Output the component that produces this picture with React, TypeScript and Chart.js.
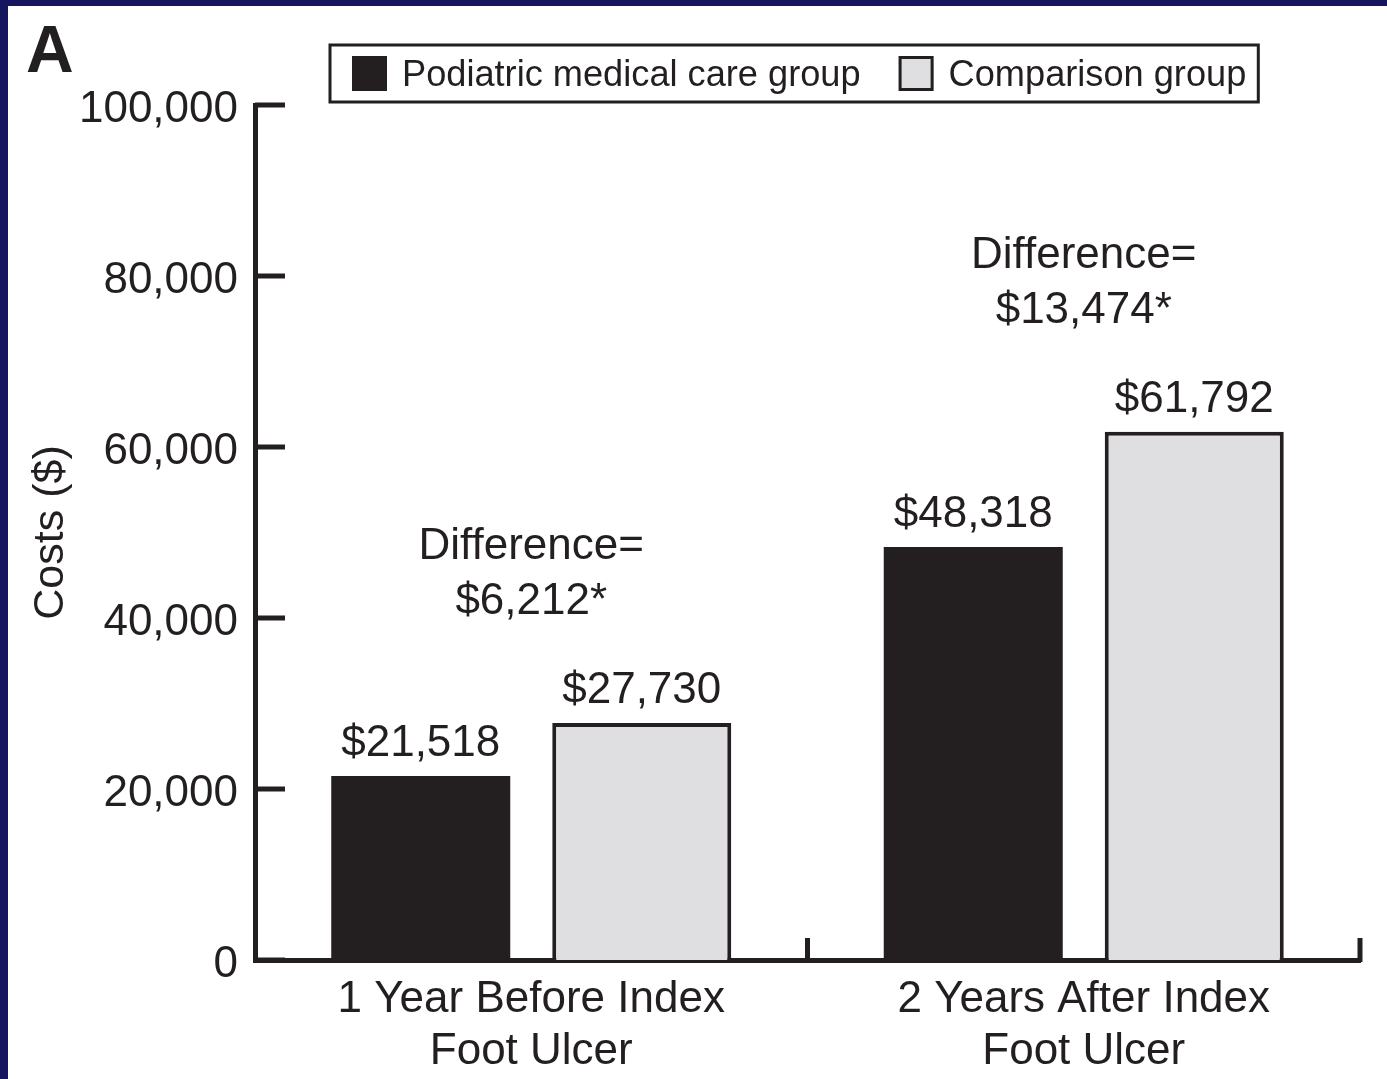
import React, { useEffect, useRef } from "react";
import { Chart, registerables } from "chart.js";

Chart.register(...registerables);

const categories: string[][] = [
  ["1 Year Before Index", "Foot Ulcer"],
  ["2 Years After Index", "Foot Ulcer"],
];
const seriesNames = ["Podiatric medical care group", "Comparison group"];
const podiatricCosts = [21518, 48318];
const comparisonCosts = [27730, 61792];
const yTicks = [0, 20000, 40000, 60000, 80000, 100000];
const yTitle = "Costs ($)";
const panelLetter = "A";

const INK = "#231f20";
const GRAY = "#dfdfe1";
const FONT = "'Liberation Sans', Arial, Helvetica, sans-serif";

const fmt = (v: number) => v.toLocaleString("en-US");

const overlayPlugin = {
  id: "overlay",
  afterDraw(chart: any) {
    const { ctx, chartArea } = chart;
    const xs = chart.scales.x;
    const ys = chart.scales.y;
    ctx.save();
    ctx.strokeStyle = INK;
    ctx.fillStyle = INK;
    ctx.lineWidth = 5;
    ctx.lineCap = "butt";

    // inside y ticks
    ys.ticks.forEach((t: any) => {
      const y = ys.getPixelForValue(t.value);
      ctx.beginPath();
      ctx.moveTo(chartArea.left, y);
      ctx.lineTo(chartArea.left + 30, y);
      ctx.stroke();
    });
    // inside x ticks at category boundaries
    const half = (xs.getPixelForValue(1) - xs.getPixelForValue(0)) / 2;
    categories.forEach((_, i) => {
      const x = Math.min(xs.getPixelForValue(i) + half, chartArea.right);
      ctx.beginPath();
      ctx.moveTo(x, chartArea.bottom + 2);
      ctx.lineTo(x, chartArea.bottom - 22);
      ctx.stroke();
    });

    // value labels
    ctx.font = `44px ${FONT}`;
    ctx.textAlign = "center";
    ctx.textBaseline = "bottom";
    chart.data.datasets.forEach((ds: any, di: number) => {
      const meta = chart.getDatasetMeta(di);
      meta.data.forEach((bar: any, i: number) => {
        ctx.fillText("$" + fmt(ds.data[i]), bar.x, bar.y - 10);
      });
    });

    // difference annotations
    ctx.textBaseline = "middle";
    categories.forEach((_, i) => {
      const a = podiatricCosts[i];
      const b = comparisonCosts[i];
      const topY = ys.getPixelForValue(Math.max(a, b));
      const cx = xs.getPixelForValue(i);
      ctx.fillText("Difference=", cx, topY - 176);
      ctx.fillText("$" + fmt(b - a) + "*", cx, topY - 121);
    });

    // legend
    const lx = 322;
    const ly = 39;
    const lh = 57;
    const sq = 35;
    ctx.font = `36.2px ${FONT}`;
    ctx.textAlign = "left";
    let x = lx + 22;
    const positions: { sx: number; tx: number }[] = [];
    seriesNames.forEach((name, i) => {
      const sx = x;
      const tx = sx + sq + 15;
      positions.push({ sx, tx });
      x = tx + ctx.measureText(name).width + (i < seriesNames.length - 1 ? 38 : 12);
    });
    ctx.lineWidth = 3;
    ctx.strokeRect(lx, ly, x - lx, lh);
    const cy = ly + lh / 2;
    seriesNames.forEach((name, i) => {
      const { sx, tx } = positions[i];
      const ds = chart.data.datasets[i];
      ctx.fillStyle = ds.backgroundColor;
      ctx.fillRect(sx, cy - sq / 2, sq, sq);
      if (ds.borderWidth) {
        ctx.lineWidth = 3;
        ctx.strokeStyle = INK;
        ctx.strokeRect(sx + 1.5, cy - sq / 2 + 1.5, sq - 3, sq - 3);
      }
      ctx.fillStyle = INK;
      ctx.fillText(name, tx, cy + 3);
    });

    // panel letter
    ctx.font = `bold 66px ${FONT}`;
    ctx.textBaseline = "alphabetic";
    ctx.fillText(panelLetter, 18, 66);
    ctx.restore();
  },
};

export default function App() {
  const ref = useRef<HTMLCanvasElement | null>(null);
  useEffect(() => {
    if (!ref.current) return;
    Chart.defaults.font.family = FONT;
    Chart.defaults.color = INK;
    const chart = new Chart(ref.current, {
      type: "bar",
      data: {
        labels: categories,
        datasets: [
          {
            label: seriesNames[0],
            data: podiatricCosts,
            backgroundColor: INK,
            borderWidth: 0,
            categoryPercentage: 0.8,
            barPercentage: 0.81,
          },
          {
            label: seriesNames[1],
            data: comparisonCosts,
            backgroundColor: GRAY,
            borderColor: INK,
            borderWidth: 4,
            categoryPercentage: 0.8,
            barPercentage: 0.81,
          },
        ],
      },
      options: {
        animation: false,
        responsive: false,
        devicePixelRatio: 1,
        layout: { padding: { top: 99, right: 27, left: 0, bottom: 0 } },
        plugins: {
          legend: { display: false },
          tooltip: { enabled: false },
          title: { display: false },
        },
        scales: {
          x: {
            offset: true,
            grid: { display: false, drawTicks: false },
            border: { display: true, color: INK, width: 5 },
            ticks: { font: { size: 44, family: FONT }, color: INK, padding: 13, maxRotation: 0, autoSkip: false },
            afterFit: (s: any) => {
              s.height = 119;
            },
          },
          y: {
            min: 0,
            max: 100000,
            grid: { display: false, drawTicks: false },
            border: { display: true, color: INK, width: 5 },
            afterBuildTicks: (s: any) => {
              s.ticks = yTicks.map((v) => ({ value: v }));
            },
            ticks: {
              font: { size: 44, family: FONT },
              color: INK,
              padding: 17,
              labelOffset: 5,
              callback: (v: any) => fmt(Number(v)),
            },
            title: {
              display: true,
              text: yTitle,
              font: { size: 43, family: FONT },
              color: INK,
              padding: { top: 17, bottom: 0 },
            },
            afterFit: (s: any) => {
              s.width = 247;
            },
          },
        },
      },
      plugins: [overlayPlugin],
    });
    return () => chart.destroy();
  }, []);

  return (
    <div
      style={{
        position: "absolute",
        left: 0,
        top: 0,
        width: 1387,
        height: 1079,
        background: "#16165e",
        overflow: "hidden",
      }}
    >
      <canvas
        ref={ref}
        width={1379}
        height={1073}
        style={{ position: "absolute", left: 8, top: 6, width: 1379, height: 1073, background: "#ffffff" }}
      />
    </div>
  );
}
